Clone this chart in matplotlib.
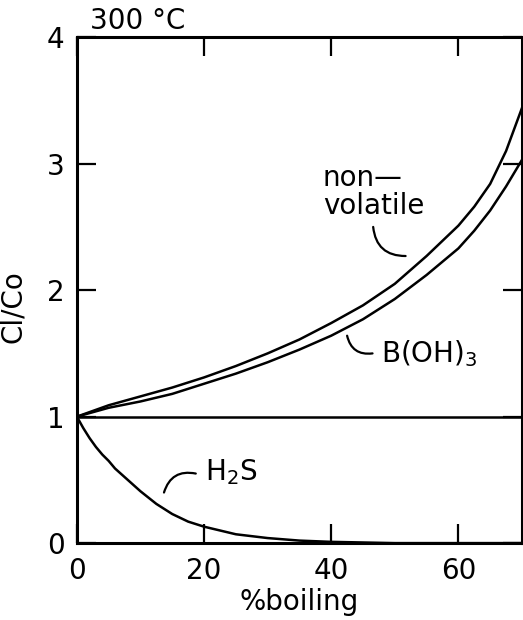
import numpy as np
import matplotlib
matplotlib.use('Agg')
import matplotlib.pyplot as plt

# values
boiling = [0, 5, 10, 15, 20, 25, 30, 35, 40, 45, 50, 55, 60, 62.5, 65, 67.5, 70]
nonvolatile = [1.0, 1.09, 1.16, 1.23, 1.31, 1.40, 1.50, 1.61, 1.74, 1.88, 2.05,
               2.27, 2.51, 2.66, 2.84, 3.10, 3.44]
boh3 = [1.0, 1.07, 1.12, 1.18, 1.26, 1.34, 1.43, 1.53, 1.64, 1.77, 1.93,
        2.12, 2.33, 2.47, 2.63, 2.82, 3.03]

h2s_x = [0, 1, 2, 3, 4, 5, 6, 8, 10, 12.5, 15, 17.5, 20, 25, 30, 35, 40, 45, 50, 70]
h2s_y = [1.0, 0.91, 0.83, 0.76, 0.70, 0.65, 0.59, 0.50, 0.41, 0.31, 0.23, 0.17,
         0.13, 0.07, 0.04, 0.02, 0.01, 0.005, 0.0, 0.0]

ref_x = [0, 70]
ref_y = [1, 1]

xticks = [0, 20, 40, 60]
yticks = [0, 1, 2, 3, 4]

plt.rcParams['font.family'] = ['DejaVu Sans']
fig = plt.figure(figsize=(5.23, 6.20), dpi=100)
ax = fig.add_axes([0.147, 0.124, 0.851, 0.816])

lw = 1.8
for xs, ys in [(boiling, nonvolatile), (boiling, boh3), (h2s_x, h2s_y), (ref_x, ref_y)]:
    ax.plot(xs, ys, color='black', lw=lw, solid_joinstyle='round')

ax.set_xlim(0, 70)
ax.set_ylim(0, 4)
ax.set_xticks(xticks)
ax.set_yticks(yticks)
ax.tick_params(direction='in', length=14, width=1.6, labelsize=20,
               top=True, right=True, pad=9)
ax.tick_params(axis='x', pad=10)
for s in ax.spines.values():
    s.set_linewidth(2.2)

ax.set_xlabel('%boiling', fontsize=20, labelpad=2)
ax.set_ylabel('Cl/Co', fontsize=20)
ax.yaxis.set_label_coords(-0.112, 0.468)

ax.text(0.03, 1.005, '300 °C', transform=ax.transAxes, fontsize=20,
        ha='left', va='bottom')

# labels with curved leader lines
ax.text(38.7, 3.0, 'non—\nvolatile', fontsize=20, ha='left', va='top',
        linespacing=1.0)
ax.annotate('', xy=(51.7, 2.27), xytext=(46.6, 2.50),
            arrowprops=dict(arrowstyle='-', lw=1.6, color='black',
                            connectionstyle='arc3,rad=0.45',
                            shrinkA=0, shrinkB=0))

ax.text(47.8, 1.43, 'B(OH)$_3$', fontsize=20, ha='left', va='baseline')
ax.annotate('', xy=(46.5, 1.50), xytext=(42.5, 1.64),
            arrowprops=dict(arrowstyle='-', lw=1.6, color='black',
                            connectionstyle='arc3,rad=0.45',
                            shrinkA=0, shrinkB=0))

ax.text(20.2, 0.50, 'H$_2$S', fontsize=20, ha='left', va='baseline')
ax.annotate('', xy=(18.7, 0.55), xytext=(13.7, 0.40),
            arrowprops=dict(arrowstyle='-', lw=1.6, color='black',
                            connectionstyle='arc3,rad=-0.45',
                            shrinkA=0, shrinkB=0))

fig.savefig('out.png', dpi=100)
